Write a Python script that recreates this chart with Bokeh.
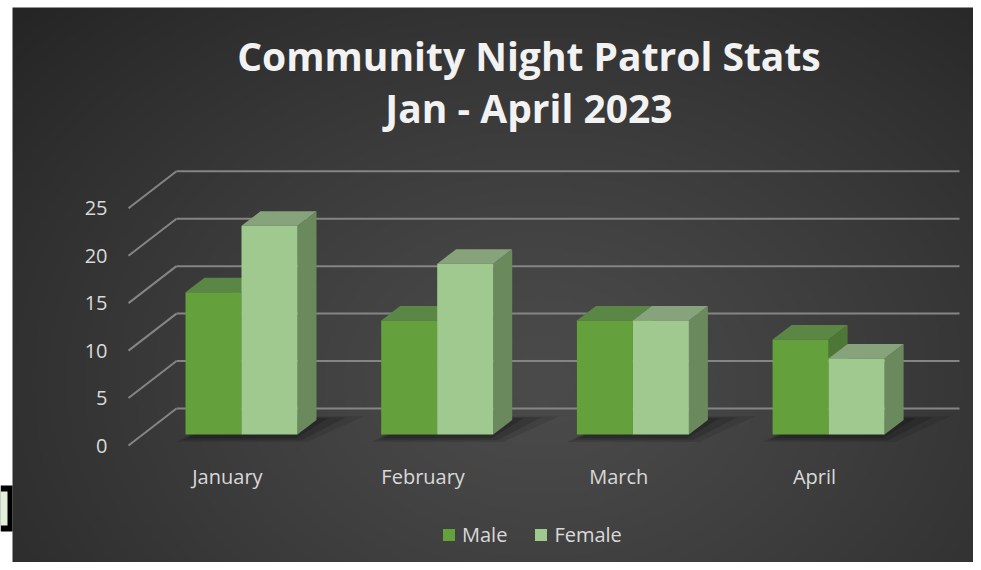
import numpy as np
from bokeh.plotting import figure
from bokeh.models import Range1d, Legend, LegendItem, ColumnDataSource
from bokeh.core.properties import value
from bokeh.embed import file_html
from bokeh.resources import INLINE

# ---------------- data ----------------
months = ["January", "February", "March", "April"]
male = [15, 12, 12, 10]
female = [22, 18, 12, 8]
y_ticks = [0, 5, 10, 15, 20, 25]
title_lines = ["Community Night Patrol Stats", "Jan - April 2023"]
series_names = ["Male", "Female"]

# ---------------- geometry / style ----------------
W, H = 973, 562
PX_X = 195.7   # pixels per category step
PX_Y = 9.49    # pixels per value unit
ORG_X, ORG_Y = 241.0, 434.0  # screen position of (category 0, value 0) on bar front plane


def px(xp):
    return (xp - ORG_X) / PX_X


def py(yp):
    return (ORG_Y - yp) / PX_Y


BAR_W = 56 / PX_X
DX = 19 / PX_X
DY = 14.5 / PX_Y
BACK = py(408)
FRONT = py(445)

p = figure(width=W, height=H, output_backend="svg", toolbar_location=None,
           x_range=Range1d(px(0), px(W)), y_range=Range1d(py(H), py(0)),
           x_axis_location=None, y_axis_location=None, min_border=0,
           background_fill_color="white", border_fill_color="white",
           outline_line_color=None)
p.grid.visible = False

# background radial gradient
gw, gh = 321, 186
xs = np.linspace(12, 975, gw)
ys = np.linspace(566, 7, gh)
X, Y = np.meshgrid(xs, ys)
d = np.sqrt(((X - 540) / 640) ** 2 + ((Y - 380) / 480) ** 2)
f = np.clip(d / 1.13, 0, 1) ** 1.2
g = (0x4b - (0x4b - 0x25) * f).astype(np.uint8)
img = np.empty((gh, gw), dtype=np.uint32)
view = img.view(dtype=np.uint8).reshape((gh, gw, 4))
view[..., 0] = g
view[..., 1] = g
view[..., 2] = g
view[..., 3] = 255
p.image_rgba(image=[img], x=px(12), y=py(566), dw=963 / PX_X, dh=559 / PX_Y)

# small black frame artefact at left edge
p.quad(left=[px(0)], right=[px(12)], top=[py(485)], bottom=[py(531)],
       fill_color="black", line_color=None)
p.quad(left=[px(0)], right=[px(7)], top=[py(491)], bottom=[py(525)],
       fill_color="#e2efda", line_color=None)

# gridlines: back wall + left side wall
back_x = [[px(176), px(959)] for v in y_ticks]
back_y = [[v + BACK, v + BACK] for v in y_ticks]
side_x = [[px(128), px(176)] for v in y_ticks]
side_y = [[v + FRONT, v + BACK] for v in y_ticks]
p.multi_line(xs=back_x + side_x, ys=back_y + side_y, line_color="#858585", line_width=2)

# bar shadows
for k, alpha in enumerate([0.15, 0.2, 0.25]):
    sx, sy = [], []
    ins = 0.03 * k
    for i in range(len(months)):
        l = i - BAR_W
        r = i + BAR_W
        sx.append([l - 0.05 + ins, r + 0.05 - ins, r + DX + 0.24 - 3 * ins, l + DX + 0.1])
        sy.append([-0.8 + 0.2 * k, -0.8 + 0.2 * k, DY + 0.4 - 0.1 * k, DY + 0.4 - 0.1 * k])
    p.patches(xs=sx, ys=sy, fill_color="#111111", fill_alpha=alpha, line_color=None)


def draw_bars(vals, offset, front_col, top_col, side_col):
    lefts = [i + offset for i in range(len(vals))]
    rights = [l + BAR_W for l in lefts]
    side_xs = [[r, r + DX, r + DX, r] for r in rights]
    side_ys = [[0, DY, v + DY, v] for v in vals]
    top_xs = [[l, l + DX, r + DX, r] for l, r in zip(lefts, rights)]
    top_ys = [[v, v + DY, v + DY, v] for v in vals]
    p.patches(xs=side_xs, ys=side_ys, fill_color=side_col, line_color=None)
    p.patches(xs=top_xs, ys=top_ys, fill_color=top_col, line_color=None)
    src = ColumnDataSource(dict(left=lefts, right=rights, top=vals, bottom=[0] * len(vals)))
    return p.quad(left="left", right="right", top="top", bottom="bottom", source=src,
                  fill_color=front_col, line_color=None)


r_male = draw_bars(male, -BAR_W, "#64a03c", "#5a8745", "#4e7636")
r_female = draw_bars(female, 0.0, "#a0c990", "#87a37b", "#6a8a5e")

LABEL_COL = "#d9d9d9"
FONT = "Open Sans"

# y tick labels
p.text(x=[px(107)] * len(y_ticks), y=[v + FRONT for v in y_ticks], text=[str(v) for v in y_ticks],
       text_align="right", text_baseline="middle", text_font=value(FONT),
       text_font_size="20px", text_color=LABEL_COL)

# category labels
p.text(x=[i - 0.072 for i in range(len(months))], y=[py(476)] * len(months), text=months,
       text_align="center", text_baseline="middle", text_font=value(FONT),
       text_font_size="20px", text_color=LABEL_COL)

# title
p.text(x=[px(528.5)] * 2, y=[py(55), py(107)], text=title_lines,
       text_align="center", text_baseline="middle", text_font=value(FONT),
       text_font_style="bold", text_font_size="39px", text_color="#f2f2f2")

legend = Legend(items=[LegendItem(label=series_names[0], renderers=[r_male]),
                       LegendItem(label=series_names[1], renderers=[r_female])],
                orientation="horizontal", location=(441, H - 548),
                glyph_width=15, glyph_height=15, label_standoff=6, spacing=26,
                padding=0, margin=0, background_fill_alpha=0, border_line_alpha=0,
                label_text_font=FONT, label_text_font_size="20px", label_text_color=LABEL_COL,
                label_height=15)
p.add_layout(legend, "center")

open("out.html", "w").write(file_html(p, INLINE))
